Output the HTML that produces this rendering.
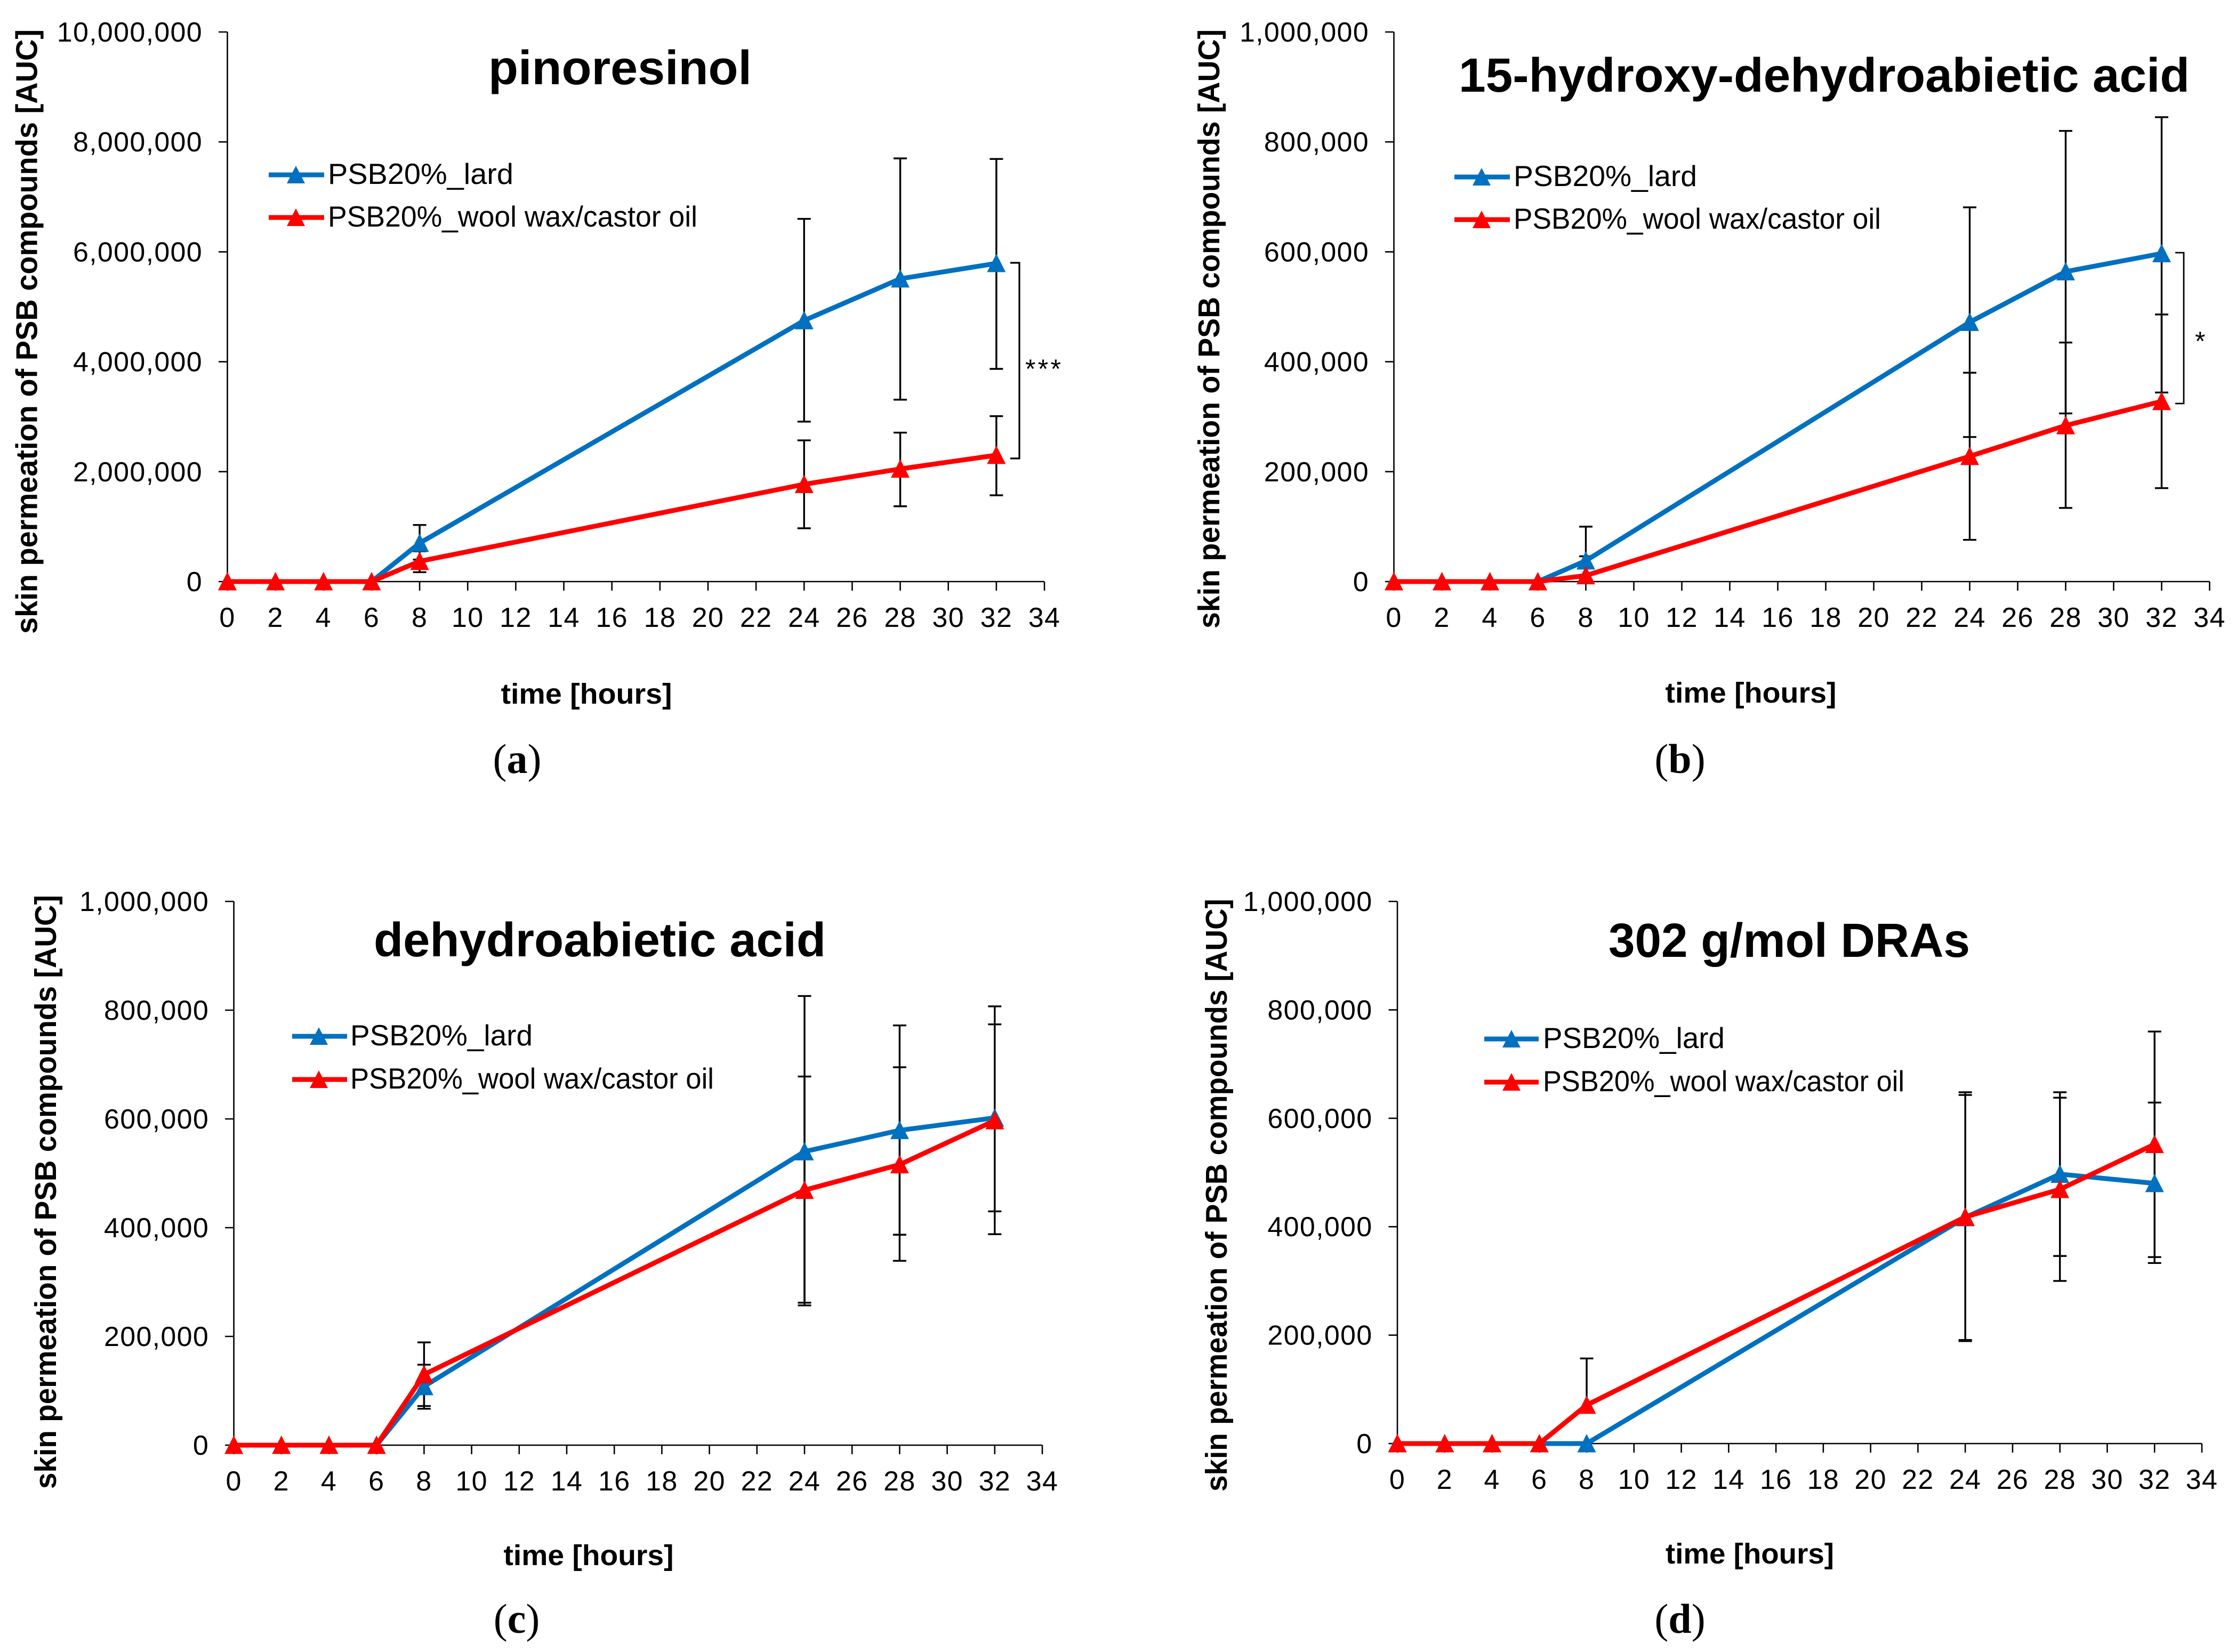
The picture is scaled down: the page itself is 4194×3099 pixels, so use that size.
<!DOCTYPE html>
<html lang="en">
<head>
<meta charset="utf-8">
<title>Skin permeation of PSB compounds</title>
<style>
html,body{margin:0;padding:0;background:#fff;width:4194px;height:3099px;overflow:hidden}
svg{display:block}
text{font-family:"Liberation Sans",Arial,sans-serif;fill:#000}
.t{font-weight:700;font-size:90px;text-anchor:start}
.ax{font-weight:700;font-size:54px;text-anchor:middle}
.ay{font-weight:700;font-size:57px;text-anchor:middle}
.lg{font-size:55px}
.tick{font-size:52px;letter-spacing:1.3px}
.sub{font-family:"Liberation Serif",serif;font-size:78px;text-anchor:middle}
.ast{font-size:50px}
</style>
</head>
<body>
<svg id="figure" xmlns="http://www.w3.org/2000/svg" width="4194" height="3099" viewBox="0 0 4194 3099">
<rect width="4194" height="3099" fill="#fff"/>

<g id="panel-a">
  <g id="panel-a-plot"></g>
  <text class="t" x="916" y="158" textLength="494" lengthAdjust="spacingAndGlyphs">pinoresinol</text>
  <text class="ay" transform="translate(69.5 622) rotate(-90)" textLength="1134" lengthAdjust="spacingAndGlyphs">skin permeation of PSB compounds [AUC]</text>
  <text class="ax" x="1100" y="1320" textLength="321" lengthAdjust="spacingAndGlyphs">time [hours]</text>
  <text class="sub" x="970" y="1450">(<tspan font-weight="700">a</tspan>)</text>
  <g>
    <g>
      <line x1="504" x2="608" y1="328" y2="328" stroke="#0070c0" stroke-width="9"/>
      <polygon points="555,311 572,344 538,344" fill="#0070c0"/>
      <text class="lg" x="615" y="345" textLength="348" lengthAdjust="spacingAndGlyphs">PSB20%_lard</text>
    </g>
    <g>
      <line x1="504" x2="608" y1="408" y2="408" stroke="#ff0000" stroke-width="9"/>
      <polygon points="555,391 572,424 538,424" fill="#ff0000"/>
      <text class="lg" x="615" y="425" textLength="693" lengthAdjust="spacingAndGlyphs">PSB20%_wool wax/castor oil</text>
    </g>
  </g>
  <path d="M1895 493H1912V860H1895" fill="none" stroke="#000" stroke-width="3.2"/>
  <text class="ast" x="1923" y="709" textLength="67" lengthAdjust="spacing">***</text>
</g>

<g id="panel-b">
  <g id="panel-b-plot"></g>
  <text class="t" x="2736" y="172" textLength="1371" lengthAdjust="spacingAndGlyphs">15-hydroxy-dehydroabietic acid</text>
  <text class="ay" transform="translate(2287 617) rotate(-90)" textLength="1124" lengthAdjust="spacingAndGlyphs">skin permeation of PSB compounds [AUC]</text>
  <text class="ax" x="3284" y="1318" textLength="321" lengthAdjust="spacingAndGlyphs">time [hours]</text>
  <text class="sub" x="3151" y="1450">(<tspan font-weight="700">b</tspan>)</text>
  <g>
    <g>
      <line x1="2728" x2="2832" y1="332" y2="332" stroke="#0070c0" stroke-width="9"/>
      <polygon points="2779,315 2796,348 2762,348" fill="#0070c0"/>
      <text class="lg" x="2839" y="349" textLength="344" lengthAdjust="spacingAndGlyphs">PSB20%_lard</text>
    </g>
    <g>
      <line x1="2728" x2="2832" y1="412" y2="412" stroke="#ff0000" stroke-width="9"/>
      <polygon points="2779,395 2796,428 2762,428" fill="#ff0000"/>
      <text class="lg" x="2839" y="429" textLength="689" lengthAdjust="spacingAndGlyphs">PSB20%_wool wax/castor oil</text>
    </g>
  </g>
  <path d="M4080 474H4096V757H4080" fill="none" stroke="#000" stroke-width="2.8"/>
  <text class="ast" x="4117" y="657">*</text>
</g>

<g id="panel-c">
  <g id="panel-c-plot"></g>
  <text class="t" x="701" y="1794" textLength="848" lengthAdjust="spacingAndGlyphs">dehydroabietic acid</text>
  <text class="ay" transform="translate(105 2236) rotate(-90)" textLength="1114" lengthAdjust="spacingAndGlyphs">skin permeation of PSB compounds [AUC]</text>
  <text class="ax" x="1104" y="2936" textLength="319" lengthAdjust="spacingAndGlyphs">time [hours]</text>
  <text class="sub" x="969" y="3063">(<tspan font-weight="700">c</tspan>)</text>
  <g>
    <g>
      <line x1="548" x2="651" y1="1944" y2="1944" stroke="#0070c0" stroke-width="9"/>
      <polygon points="598,1927 615,1960 581,1960" fill="#0070c0"/>
      <text class="lg" x="657" y="1961" textLength="342" lengthAdjust="spacingAndGlyphs">PSB20%_lard</text>
    </g>
    <g>
      <line x1="548" x2="651" y1="2025" y2="2025" stroke="#ff0000" stroke-width="9"/>
      <polygon points="598,2008 615,2041 581,2041" fill="#ff0000"/>
      <text class="lg" x="657" y="2042" textLength="682" lengthAdjust="spacingAndGlyphs">PSB20%_wool wax/castor oil</text>
    </g>
  </g>
</g>

<g id="panel-d">
  <g id="panel-d-plot"></g>
  <text class="t" x="3017" y="1795" textLength="678" lengthAdjust="spacingAndGlyphs">302 g/mol DRAs</text>
  <text class="ay" transform="translate(2301 2242) rotate(-90)" textLength="1112" lengthAdjust="spacingAndGlyphs">skin permeation of PSB compounds [AUC]</text>
  <text class="ax" x="3282" y="2933" textLength="316" lengthAdjust="spacingAndGlyphs">time [hours]</text>
  <text class="sub" x="3151" y="3063">(<tspan font-weight="700">d</tspan>)</text>
  <g>
    <g>
      <line x1="2784" x2="2886" y1="1949" y2="1949" stroke="#0070c0" stroke-width="9"/>
      <polygon points="2835,1932 2852,1965 2818,1965" fill="#0070c0"/>
      <text class="lg" x="2894" y="1966" textLength="341" lengthAdjust="spacingAndGlyphs">PSB20%_lard</text>
    </g>
    <g>
      <line x1="2784" x2="2886" y1="2030" y2="2030" stroke="#ff0000" stroke-width="9"/>
      <polygon points="2835,2013 2852,2046 2818,2046" fill="#ff0000"/>
      <text class="lg" x="2894" y="2047" textLength="678" lengthAdjust="spacingAndGlyphs">PSB20%_wool wax/castor oil</text>
    </g>
  </g>
</g>
</svg>

<script>
// Shared axis data
const hours = [0, 2, 4, 6, 8, 24, 28, 32];
const errorHours = [8, 24, 28, 32];
const xTicks = [0, 2, 4, 6, 8, 10, 12, 14, 16, 18, 20, 22, 24, 26, 28, 30, 32, 34];
const yTicksLarge = [0, 2000000, 4000000, 6000000, 8000000, 10000000];
const yTicksSmall = [0, 200000, 400000, 600000, 800000, 1000000];

// Panel a: pinoresinol
const pinoLard = [0, 0, 0, 0, 700000, 4750000, 5510000, 5790000];
const pinoWool = [0, 0, 0, 0, 370000, 1770000, 2050000, 2300000];
const pinoLardUpper = [1030000, 6600000, 7700000, 7690000];
const pinoLardLower = [400000, 2910000, 3310000, 3870000];
const pinoWoolUpper = [550000, 2570000, 2710000, 3010000];
const pinoWoolLower = [170000, 970000, 1370000, 1570000];

// Panel b: 15-hydroxy-dehydroabietic acid
const hydroxyLard = [0, 0, 0, 0, 38000, 472000, 564000, 597000];
const hydroxyWool = [0, 0, 0, 0, 11000, 228000, 284000, 328000];
const hydroxyLardUpper = [100000, 681000, 820000, 845000];
const hydroxyLardLower = [null, 263000, 306000, 344000];
const hydroxyWoolUpper = [46000, 380000, 435000, 486000];
const hydroxyWoolLower = [null, 76000, 134000, 170000];

// Panel c: dehydroabietic acid
const dehydroLard = [0, 0, 0, 0, 108000, 540000, 579000, 602000];
const dehydroWool = [0, 0, 0, 0, 130000, 469000, 516000, 597000];
const dehydroLardUpper = [148000, 826000, 772000, 774000];
const dehydroLardLower = [72000, 257000, 387000, 430000];
const dehydroWoolUpper = [189000, 678000, 695000, 807000];
const dehydroWoolLower = [67000, 262000, 339000, 388000];

// Panel d: 302 g/mol DRAs
const draLard = [0, 0, 0, 0, 0, 417000, 497000, 480000];
const draWool = [0, 0, 0, 0, 71000, 418000, 469000, 552000];
const draLardUpper = [null, 643000, 648000, 629000];
const draLardLower = [null, 191000, 346000, 333000];
const draWoolUpper = [157000, 648000, 638000, 760000];
const draWoolLower = [null, 189000, 300000, 344000];

const SVGNS = 'http://www.w3.org/2000/svg';
const BLUE = '#0070c0';
const RED = '#ff0000';

function make(tag, attrs, parent) {
  const node = document.createElementNS(SVGNS, tag);
  Object.keys(attrs).forEach(function (k) { node.setAttribute(k, attrs[k]); });
  parent.appendChild(node);
  return node;
}

function drawPanel(id, box, yTicks, lard, wool, lardUp, lardLow, woolUp, woolLow) {
  const g = document.getElementById(id + '-plot');
  const xMax = xTicks[xTicks.length - 1];
  const yMax = yTicks[yTicks.length - 1];
  const xScale = function (v) { return box.left + (v / xMax) * (box.right - box.left); };
  const yScale = function (v) { return box.bottom - (v / yMax) * (box.bottom - box.top); };

  // axes
  const xAxis = make('line', {x1: box.left, x2: box.right, y1: box.bottom, y2: box.bottom, stroke: '#000', 'stroke-width': 2.6}, g);
  
  
  const yAxis = make('line', {x1: box.left, x2: box.left, y1: box.top, y2: box.bottom, stroke: '#000', 'stroke-width': 2.6}, g);
  
  

  xTicks.forEach(function (t) {
    const x = xScale(t);
    const tick = make('line', {x1: x, x2: x, y1: box.bottom, y2: box.bottom + 17, stroke: '#000', 'stroke-width': 2.6}, g);
    
    
    const label = make('text', {x: x, y: box.bottom + 85, 'text-anchor': 'middle', 'class': 'tick'}, g);
    
    
    label.textContent = String(t);
  });

  yTicks.forEach(function (t) {
    const y = yScale(t);
    const tick = make('line', {x1: box.left - 16.5, x2: box.left, y1: y, y2: y, stroke: '#000', 'stroke-width': 2.6}, g);
    
    
    const label = make('text', {x: box.left - 46.5, y: y + 18, 'text-anchor': 'end', 'class': 'tick'}, g);
    
    
    label.textContent = t.toLocaleString('en-US');
  });

  // error bars behind the series
  function errorBar(hour, value, seriesName) {
    if (value === null) return;
    const x = xScale(hour);
    const y = yScale(value);
    const idx = hours.indexOf(hour);
    const center = yScale(seriesName === 'lard' ? lard[idx] : wool[idx]);
    const stem = make('line', {x1: x, x2: x, y1: center, y2: y, stroke: '#000', 'stroke-width': 3.4}, g);
    
    
    const cap = make('line', {x1: x - 12.5, x2: x + 12.5, y1: y, y2: y, stroke: '#000', 'stroke-width': 3.4}, g);
    
    
  }
  errorHours.forEach(function (h, i) {
    errorBar(h, lardUp[i], 'lard');
    errorBar(h, lardLow[i], 'lard');
    errorBar(h, woolUp[i], 'wool-wax');
    errorBar(h, woolLow[i], 'wool-wax');
  });

  // series
  function series(values, colour, seriesName) {
    const pts = hours.map(function (h, i) { return xScale(h) + ',' + yScale(values[i]); }).join(' ');
    const line = make('polyline', {points: pts, fill: 'none', stroke: colour, 'stroke-width': 9, 'stroke-linejoin': 'round'}, g);
    
    
    hours.forEach(function (h, i) {
      const cx = xScale(h);
      const cy = yScale(values[i]);
      const marker = make('polygon', {points: cx + ',' + (cy - 18) + ' ' + (cx + 17.5) + ',' + (cy + 16.5) + ' ' + (cx - 17.5) + ',' + (cy + 16.5), fill: colour}, g);
      
      
    });
  }
  series(lard, BLUE, 'lard');
  series(wool, RED, 'wool-wax');
}

drawPanel('panel-a', {left: 426.5, right: 1959, top: 60, bottom: 1091}, yTicksLarge,
  pinoLard, pinoWool, pinoLardUpper, pinoLardLower, pinoWoolUpper, pinoWoolLower);
drawPanel('panel-b', {left: 2614.5, right: 4144.5, top: 60, bottom: 1091}, yTicksSmall,
  hydroxyLard, hydroxyWool, hydroxyLardUpper, hydroxyLardLower, hydroxyWoolUpper, hydroxyWoolLower);
drawPanel('panel-c', {left: 438.6, right: 1955, top: 1691, bottom: 2711}, yTicksSmall,
  dehydroLard, dehydroWool, dehydroLardUpper, dehydroLardLower, dehydroWoolUpper, dehydroWoolLower);
drawPanel('panel-d', {left: 2621, right: 4130, top: 1691, bottom: 2708}, yTicksSmall,
  draLard, draWool, draLardUpper, draLardLower, draWoolUpper, draWoolLower);
</script>
</body>
</html>
